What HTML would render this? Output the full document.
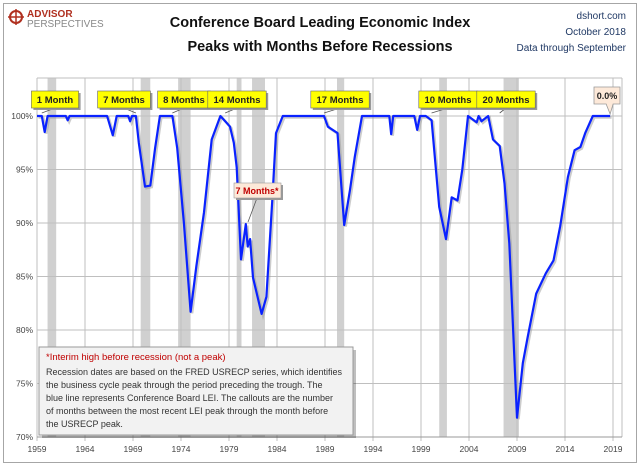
<!DOCTYPE html>
<html><head><meta charset="utf-8"><style>
body{margin:0;background:#fff;}
svg text{font-family:"Liberation Sans",sans-serif;}
</style></head><body>
<svg id="c" width="640" height="466" viewBox="0 0 640 466" xmlns="http://www.w3.org/2000/svg">
<rect x="3.5" y="3.5" width="633" height="459" fill="#fff" stroke="#a6a6a6"/>
<g>
<circle cx="16" cy="17" r="6" fill="none" stroke="#b03020" stroke-width="2"/>
<line x1="16" y1="9" x2="16" y2="25" stroke="#b03020" stroke-width="1.5"/>
<line x1="8" y1="17" x2="24" y2="17" stroke="#b03020" stroke-width="1.5"/>
<text x="27" y="17" font-size="10" font-weight="bold" fill="#b03020">ADVISOR</text>
<text x="27" y="27" font-size="10" fill="#888">PERSPECTIVES</text>
</g>
<text x="320" y="27" text-anchor="middle" font-size="14.5" font-weight="bold" fill="#111">Conference Board Leading Economic Index</text>
<text x="320" y="51" text-anchor="middle" font-size="14.5" font-weight="bold" fill="#111">Peaks with Months Before Recessions</text>
<text x="626" y="19" text-anchor="end" font-size="10" fill="#1f3864">dshort.com</text>
<text x="626" y="35" text-anchor="end" font-size="10" fill="#1f3864">October 2018</text>
<text x="626" y="51" text-anchor="end" font-size="10" fill="#1f3864">Data through September</text>
<g id="rec"></g><g id="grid"></g><g id="line"></g><g id="ann"></g>
<g>
<rect x="42" y="350" width="314" height="88" fill="#000" opacity="0.25"/>
<rect x="39" y="347" width="314" height="88" fill="#f2f2f2" stroke="#999"/>
<text x="46" y="360" font-size="9.5" fill="#c00000">*Interim high before recession (not a peak)</text>
<text font-size="9" fill="#333"><tspan x="46" y="375">Recession dates are based on the FRED USRECP series, which identifies</tspan><tspan x="46" y="388">the business cycle peak through the period preceding the trough. The</tspan><tspan x="46" y="401">blue line represents Conference Board LEI. The callouts are the number</tspan><tspan x="46" y="414">of months between the most recent LEI peak through the month  before</tspan><tspan x="46" y="427">the USRECP peak.</tspan></text>
</g>
</svg>
<script>
const yearTicks=[1959,1964,1969,1974,1979,1984,1989,1994,1999,2004,2009,2014,2019];
const valueTicks=[100,95,90,85,80,75,70];
const recessions=[[1960.1,1961.0],[1969.8,1970.8],[1973.7,1975.0],[1979.8,1980.3],[1981.4,1982.75],[1990.25,1991.0],[2000.9,2001.7],[2007.6,2009.2]];
const years=[1959,1959.5,1959.8,1960.1,1962,1962.2,1962.4,1966.3,1966.9,1967.3,1968.5,1968.7,1968.9,1969.3,1969.6,1970.25,1970.8,1971.3,1971.8,1973.1,1973.6,1974.3,1975.0,1975.6,1976.4,1977.2,1978.1,1978.6,1979.1,1979.5,1979.8,1980.25,1980.75,1980.95,1981.2,1981.5,1982.0,1982.4,1982.9,1983.5,1983.9,1984.6,1988.9,1989.3,1990.3,1991.0,1991.6,1992.1,1992.85,1995.7,1995.9,1996.1,1998.3,1998.6,1998.9,1999.5,2000.1,2000.9,2001.6,2002.2,2002.8,2003.3,2003.9,2004.8,2005.0,2005.3,2006.0,2006.5,2007.2,2007.7,2008.2,2009.0,2009.6,2010.1,2011.0,2012.0,2012.8,2013.5,2014.3,2015.0,2015.6,2016.1,2016.9,2018.7];
const values=[100,100,98.5,100,100,99.6,100,100,98.2,100,100,99.5,100,100,97.5,93.4,93.5,97,100,100,97,90,81.7,86,91,97.8,100,99.5,99,97.5,95.2,86.6,89.9,87.8,88.5,84.9,83,81.5,83.1,92,98.4,100,100,99,98.4,89.8,93.1,96.2,100,100,98.3,100,100,98.7,100,100,99.6,91.5,88.5,92.4,92.1,95,100,99.4,100,99.5,100,97.8,97.2,93.7,88.1,71.8,76.9,79.3,83.4,85.3,86.5,89.7,94.3,96.8,97.1,98.4,100,100];
const callouts=[["1 Month",1959.5,55],["7 Months",1969.3,124],["8 Months",1973.1,184],["14 Months",1978.6,237],["17 Months",1988.9,340],["10 Months",2000.1,448],["20 Months",2007.2,506]];
const X0=37,XS=9.6,Y100=116,YS=10.7;
const sx=y=>X0+(y-1959)*XS, sy=v=>Y100+(100-v)*YS;
const NS="http://www.w3.org/2000/svg";
function mk(t,a,p){const e=document.createElementNS(NS,t);for(const k in a)e.setAttribute(k,a[k]);p.appendChild(e);return e;}
const rec=document.getElementById('rec'),grid=document.getElementById('grid'),line=document.getElementById('line'),ann=document.getElementById('ann');
recessions.forEach(r=>{const e=mk('rect',{x:sx(r[0]),y:78,width:sx(r[1])-sx(r[0]),height:359,fill:'#d0d0d0'},rec);

});
mk('line',{x1:X0,y1:78,x2:622,y2:78,stroke:'#bfbfbf'},grid);
valueTicks.forEach(v=>{mk('line',{x1:X0,y1:sy(v),x2:622,y2:sy(v),stroke:'#bfbfbf'},grid);
const t=mk('text',{x:X0-4,y:sy(v)+3,'text-anchor':'end','font-size':'8.5',fill:'#444'},grid);t.textContent=v+'%';

});
yearTicks.forEach(y=>{mk('line',{x1:sx(y),y1:78,x2:sx(y),y2:441,stroke:'#bfbfbf'},grid);
const t=mk('text',{x:sx(y),y:452,'text-anchor':'middle','font-size':'8.5',fill:'#444'},grid);t.textContent=y;

});
mk('line',{x1:622,y1:78,x2:622,y2:437,stroke:'#bfbfbf'},grid);
mk('line',{x1:X0,y1:437,x2:622,y2:437,stroke:'#999'},grid);
const pts=years.map((y,i)=>sx(y).toFixed(1)+','+sy(values[i]).toFixed(1)).join(' ');
mk('polyline',{points:pts,fill:'none',stroke:'#999',opacity:'0.5','stroke-width':2.5,transform:'translate(1.5,1.5)'},line);
const pl=mk('polyline',{points:pts,fill:'none',stroke:'#0a22ff','stroke-width':2.2,'stroke-linejoin':'round'},line);


callouts.forEach(c=>{const w=c[0].length*5.6+8,bx=c[2]-w/2;
mk('line',{x1:c[2],y1:108,x2:sx(c[1]),y2:113,stroke:'#555','stroke-width':0.8},ann);
mk('rect',{x:bx+2,y:93,width:w,height:17,fill:'#999'},ann);
const r=mk('rect',{x:bx,y:91,width:w,height:17,fill:'#ffff00',stroke:'#666','stroke-width':0.6},ann);


const t=mk('text',{x:c[2],y:103,'text-anchor':'middle','font-size':'9.5','font-weight':'bold',fill:'#222'},ann);t.textContent=c[0];

});
mk('line',{x1:257,y1:198,x2:248,y2:222,stroke:'#555','stroke-width':0.8},ann);
mk('rect',{x:236,y:185,width:47,height:15,fill:'#999'},ann);
mk('rect',{x:234,y:183,width:47,height:15,fill:'#fde9d9',stroke:'#999','stroke-width':0.6},ann);
const it=mk('text',{x:257,y:194,'text-anchor':'middle','font-size':'9','font-weight':'bold',fill:'#c00000'},ann);it.textContent='7 Months*';


const lx=sx(years[years.length-1]);
mk('path',{d:`M594,87 H620 V104 H${lx+3} L${lx},114 L${lx-4},104 H594 Z`,fill:'#fde9d9',stroke:'#999','stroke-width':0.8},ann);
const lt=mk('text',{x:607,y:99,'text-anchor':'middle','font-size':'9','font-weight':'bold',fill:'#222'},ann);lt.textContent='0.0%';


</script>
</body></html>
